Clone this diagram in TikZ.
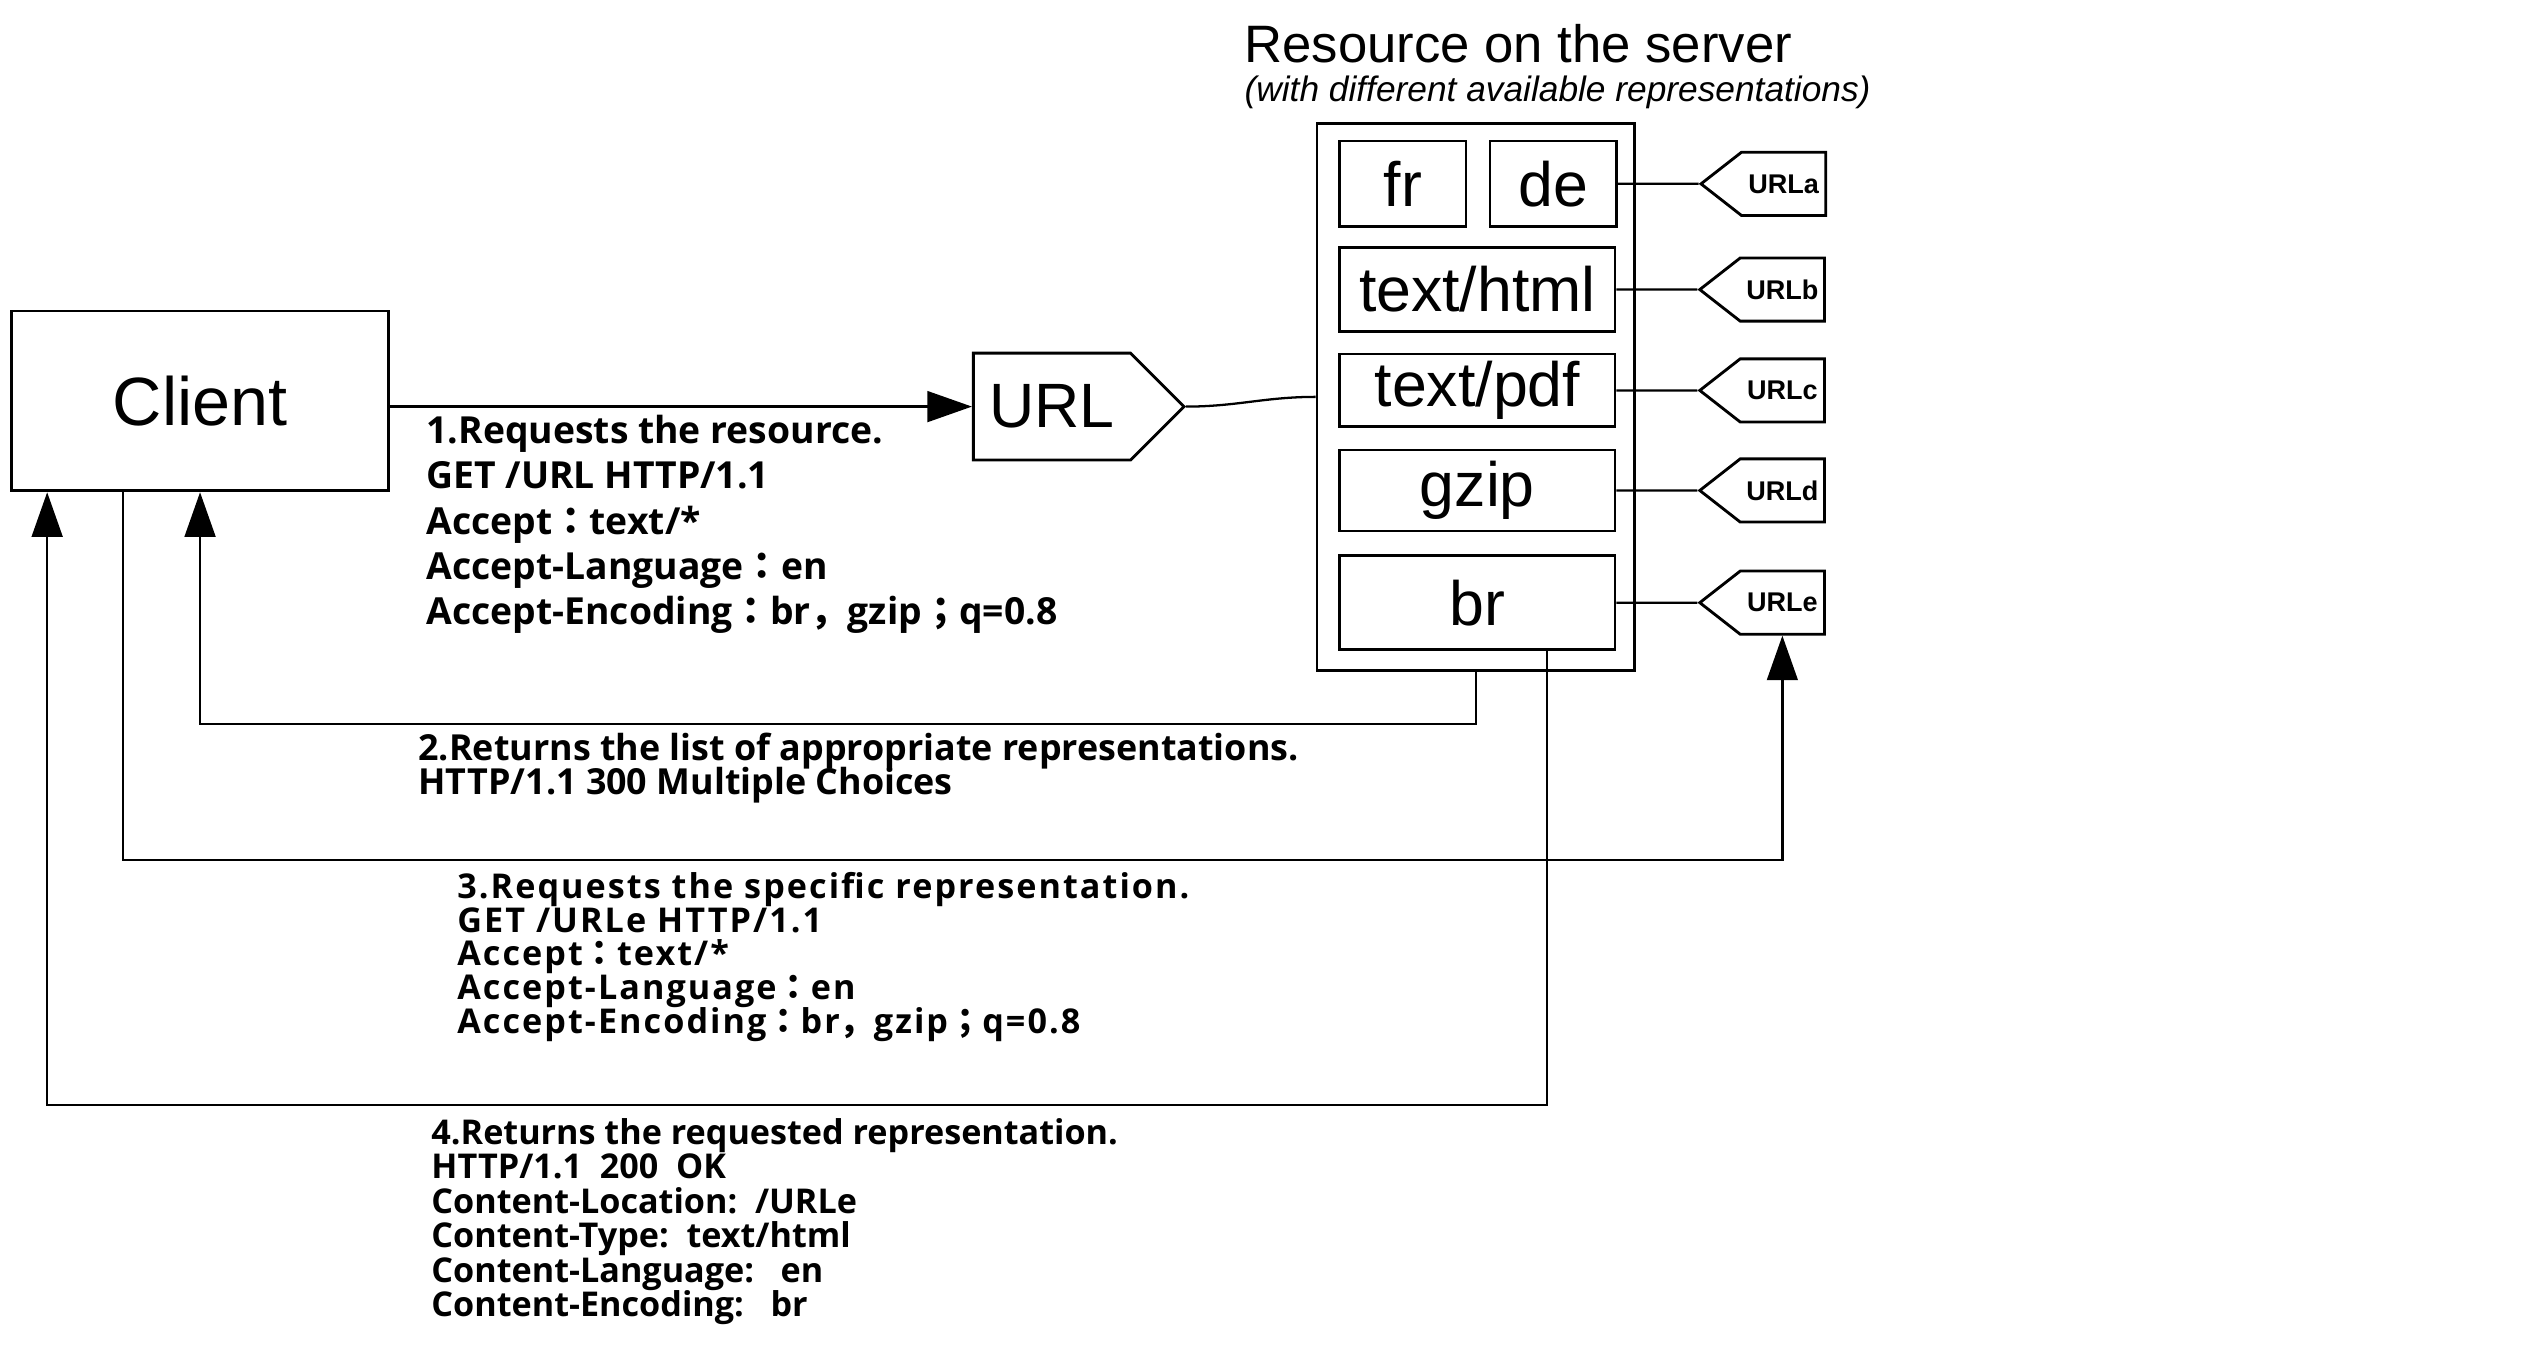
\documentclass[tikz,border=0pt]{standalone}
\usepackage{fontspec}
\setmainfont{Liberation Sans}
\newfontfamily\stepfont{Open Sans}
\newfontfamily\stepwide{Open Sans}[LetterSpace=6]
\newfontfamily\cjkfont{Noto Sans CJK JP}
\usetikzlibrary{shapes.symbols,arrows.meta,positioning}
\newcommand\fwcolon{{\cjkfont ：}}
\newcommand\fwcomma{{\cjkfont ，}}
\newcommand\fwsemi{{\cjkfont ；}}
\tikzset{
  box/.style   ={rectangle, draw, line width=1pt, inner sep=0pt},
  rep/.style   ={box, minimum width=34mm, font=\fontsize{22}{24}\selectfont},
  half/.style  ={box, minimum width=15.6mm, minimum height=10.6mm,
                 font=\fontsize{22}{24}\selectfont},
  tag/.style   ={signal, signal to=west, signal pointer angle=76, draw,
                 line width=1pt, minimum width=15.4mm, minimum height=7.8mm,
                 inner sep=0pt, font=\bfseries\fontsize{9.5}{11}\selectfont},
  msg/.style   ={anchor=north west, inner sep=0pt, align=left,
                 execute at begin node={\lineskiplimit=-20pt\relax}},
  ar/.style    ={-{Triangle[length=5.5mm,width=3.8mm]}, line width=0.8pt},
  wire/.style  ={line width=0.8pt}
}
\begin{document}
\begin{tikzpicture}[x=0.2mm, y=-0.2mm]
\useasboundingbox (0,0) rectangle (1568,831);
% client and entry url
\node[box, minimum width=46.6mm, minimum height=22.2mm,
      font=\fontsize{24}{26}\selectfont] (client) at (123.5,247.5) {Client};
\node[signal, signal to=east, signal pointer angle=90, draw, line width=1pt,
      minimum width=26mm, minimum height=13.2mm, inner sep=0pt, anchor=west,
      font=\fontsize{22}{24}\selectfont] (url) at (600,251) {URL};
% server with its representations
\node[box, minimum width=39.2mm, minimum height=67.6mm] (server) at (911,245) {};
\node[anchor=west, inner sep=0pt, font=\fontsize{18.5}{20}\selectfont]
  (title) at (768,27) {Resource on the server};
\node[anchor=west, inner sep=0pt, font=\itshape\fontsize{12.4}{14}\selectfont]
  (subtitle) at (768,57) {(with different available representations)};
\node[half] (fr) at (866,113.5) {fr};
\node[half, right=2.6mm of fr] (de) {de};
\node[rep, minimum height=10.4mm, below=2.2mm of fr.south west, anchor=north west] (html) {text/html};
\node[rep, minimum height=9mm, below=2.4mm of html] (pdf) {text/pdf};
\node[rep, minimum height=10mm, below=2.5mm of pdf] (gzip) {gzip};
\node[rep, minimum height=11.6mm, below=2.7mm of gzip] (br) {br};
\node[tag, right=10mm of de] (urla) {URLa};
\node[tag, right=10mm of html] (urlb) {URLb};
\node[tag, right=10mm of pdf] (urlc) {URLc};
\node[tag, right=10mm of gzip] (urld) {URLd};
\node[tag, right=10mm of br] (urle) {URLe};
\draw[wire] (de) -- (urla);
\draw[wire] (html) -- (urlb);
\draw[wire] (pdf) -- (urlc);
\draw[wire] (gzip) -- (urld);
\draw[wire] (br) -- (urle);
\draw[wire] (url.east) to[out=0, in=180] (server.west);
% the four exchanges
\draw[ar] (client.east |- url.west) -- (url.west);
\draw[ar] (server.south) -- ++(0,32) -| (client.south);
\draw[ar] ([xshift=14mm]client.south west) -- ++(0,227) -| (urle.south);
\draw[ar] ([xshift=8.6mm]br.south) -- ++(0,280) -| ([xshift=4.6mm]client.south west);
\node[msg, font=\stepfont\bfseries\fontsize{13.1}{15.9}\selectfont] (step1) at (263,256)
  {1.Requests the resource.\\GET /URL HTTP/1.1\\Accept\fwcolon text/*\\
   Accept-Language\fwcolon en\\Accept-Encoding\fwcolon br\fwcomma gzip\fwsemi q=0.8};
\node[msg, font=\stepfont\bfseries\fontsize{12.6}{12}\selectfont] (step2) at (258,452)
  {2.Returns the list of appropriate representations.\\HTTP/1.1 300 Multiple Choices};
\node[msg, font=\stepwide\bfseries\fontsize{12}{11.9}\selectfont] (step3) at (282,538)
  {3.Requests the specific representation.\\GET /URLe HTTP/1.1\\Accept\fwcolon text/*\\
   Accept-Language\fwcolon en\\Accept-Encoding\fwcolon br\fwcomma gzip\fwsemi q=0.8};
\node[msg, font=\stepfont\bfseries\fontsize{12}{12.1}\selectfont] (step4) at (266,690)
  {4.Returns the requested representation.\\HTTP/1.1\ \ 200\ \ OK\\
   Content-Location:\ \ /URLe\\Content-Type:\ \ text/html\\
   Content-Language:\ \ \ en\\Content-Encoding:\ \ \ br};
\end{tikzpicture}
\end{document}
